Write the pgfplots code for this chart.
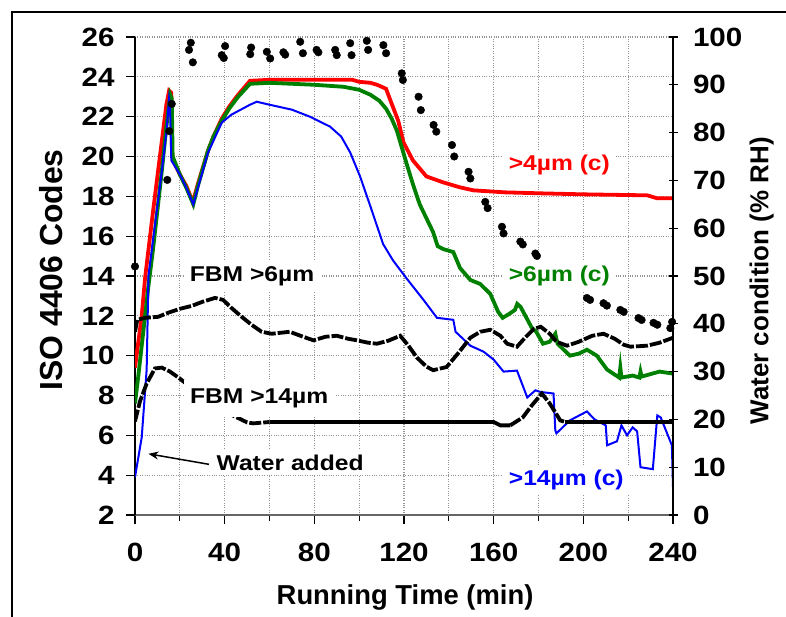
\documentclass[border=0pt]{standalone}
\usepackage{fontspec}
\setmainfont{Liberation Sans}[FakeStretch=1.15]
\newfontfamily\tkfamily{Liberation Sans}[FakeStretch=1.12]
\newfontfamily\axfamily{Liberation Sans}
\usepackage{pgfplots}
\pgfplotsset{compat=1.18}
\usetikzlibrary{arrows.meta}
\definecolor{exred}{HTML}{FF0000}
\definecolor{exgreen}{HTML}{008000}
\definecolor{exblue}{HTML}{0000FF}
\newcommand\axfont{\axfamily\fontsize{27.5}{29}\selectfont\bfseries}
\newcommand\isofont{\axfamily\fontsize{32}{34}\selectfont\bfseries}
\newcommand\rhfont{\axfamily\fontsize{26}{28}\selectfont\bfseries}
\newcommand\tkfont{\tkfamily\fontsize{26.5}{28}\selectfont\bfseries}
\newcommand\lbfont{\fontsize{21.5}{23}\selectfont\bfseries}

\begin{document}
\begin{tikzpicture}
\useasboundingbox (0,0) rectangle (786bp,617bp);
\draw[line width=1.5bp] (12bp,0) -- (12bp,605bp) -- (786bp,605bp);

\begin{axis}[
  scale only axis, width=538bp, height=478bp,
  at={(135bp,102bp)}, anchor=south west,
  xmin=0, xmax=240, ymin=2, ymax=26,
  xtick={0,40,...,240}, minor xtick={20,60,...,220},
  ytick={2,4,...,26},
  axis x line*=bottom, axis y line*=left,
  x axis line style={-, draw=gray!80!black, line width=1.2bp},
  y axis line style={-, line width=1.5bp},
  tick align=outside, major tick length=9bp, minor tick length=6bp,
  tick style={black, line width=1.2bp},
  xmajorgrids, xminorgrids, ymajorgrids,
  major grid style={gray!85, dotted, line width=1.2bp},
  minor grid style={gray!85, dotted, line width=1.2bp},
  /pgf/number format/assume math mode=true,
  ticklabel style={font=\tkfont},
  yticklabel style={xshift=-8bp},
  xticklabel style={yshift=-16bp},
  xlabel={Running Time (min)},
  ylabel={ISO 4406 Codes},
  xlabel style={font=\axfont, at={(axis description cs:0.502,-0.172)}, anchor=center},
  ylabel style={font=\isofont, at={(axis description cs:-0.156,0.513)}, anchor=center, rotate=0},
]
% >4um (c)
\addplot[exred, line width=3.8bp] coordinates {
(0,9.4)(3,12)(4.5,13.9)(8,17.2)(11,19.9)(14,22.6)(15.2,23.3)(16.2,23.2)(16.5,20.2)
(17,19.8)(20,19.1)(23,18.5)(25.8,17.7)(28,18.6)(32.6,20.3)(35,21.0)(38.7,21.9)
(42,22.5)(46,23.1)(51.3,23.8)(60,23.85)(80,23.85)(97,23.85)(100,23.75)(105,23.7)
(108,23.6)(112,23.4)(114,22.8)(117.4,21.8)(119.8,20.7)(124,19.8)(130,19.0)
(137.5,18.7)(145,18.45)(151,18.3)(165,18.2)(181,18.15)(200,18.1)(228.5,18.05)
(233,17.9)(240,17.9)
};
% >6um (c)
\addplot[exgreen, line width=3.8bp] coordinates {
(0,7.6)(1.5,9.0)(3.5,11.0)(6,13.5)(8,15.3)(10,17.3)(12,19.3)(14,21.5)(15.7,23.1)
(16.4,22.9)(16.8,20.0)(20,19.1)(23,18.4)(26,17.6)(28,18.5)(32.6,20.3)(35,21.0)
(38.7,21.8)(42,22.4)(46,23.0)(51.3,23.65)(60,23.7)(80,23.6)(93,23.5)(100,23.35)
(105,23.1)(109,22.8)(112,22.4)(114.5,21.9)(116.8,21.3)(121,19.7)(124,18.6)
(127,17.6)(130,16.9)(133,16.2)(135,15.5)(137.5,15.35)(140.6,15.25)(142,15.2)
(145,14.4)(149.6,13.8)(154,13.6)(158.5,13.1)(162,12.2)(164,11.9)(167,12.1)
(169.5,12.3)(170.5,12.6)(172,12.45)(177,11.4)(179,11.2)(182,10.6)
(185,10.7)(187.5,11.1)(188.5,10.6)(194,10.0)(198,10.1)(201.6,10.3)(206,10.0)
(210.6,9.3)(216,8.9)(216.5,9.4)(217,8.9)(222,9.0)(225,8.9)(225.5,9.2)(226,8.95)
(234,9.2)(240,9.1)
};
% >14um (c)
\addplot[exblue, line width=2bp] coordinates {
(0,3.9)(3,5.9)(5.2,9.3)(6,14)(11.9,19.2)(14.1,21.3)(15.2,22.9)(15.6,22.6)(16.2,19.8)
(20,19.1)(23,18.4)(26,17.6)(28,18.4)(32.6,20.2)(38.7,21.7)(43,22.1)(51.3,22.6)
(54.3,22.75)(60,22.6)(70,22.35)(78,22.0)(87,21.5)(92,21.0)(96,20.2)(100.4,19.0)
(105,17.5)(110.7,15.6)(115,14.8)(121,13.9)(128.7,12.8)(134.7,11.9)(142,11.8)
(143,11.2)(149.6,10.5)(155.5,10.2)(160,9.8)(164.4,9.2)(170.4,9.25)(175,7.9)
(178.6,8.26)(180.8,8.18)(186.7,8.1)(187.5,6.25)(188,6.1)(194,6.75)(201.6,7.2)
(205,6.8)(210,6.5)(210.6,5.5)(215,5.7)(217,6.5)(219.5,6.0)(222,6.4)(224,6.2)
(225.5,4.4)(231,4.3)(233,7.0)(234.5,6.9)(239.5,5.5)(240,3.4)
};
% FBM >6um
\addplot[black, line width=3.8bp, dash pattern=on 12bp off 2bp] coordinates {
(0,11.2)(1,11.8)(4.5,11.9)(10.3,11.95)(14.7,12.15)(20,12.35)(25.3,12.5)(30,12.7)
(35.7,12.9)(39.3,12.8)(43,12.4)(47.6,11.95)(52,11.55)(56.5,11.2)(61,11.1)(69,11.2)
(75,10.95)(79.6,10.77)(85,10.95)(90,11.0)(95,10.85)(99,10.77)(104,10.65)
(107.9,10.6)(113,10.75)(118.3,11.0)(122,10.5)(125.8,9.9)(130,9.45)(133,9.27)
(139,9.43)(144,10.1)(149.6,10.9)(154,11.2)(158.5,11.3)(163,11.0)(166,10.6)
(170.4,10.45)(174,10.9)(178,11.35)(181,11.45)(185,11.1)(188,10.7)(192.7,10.5)
(198,10.7)(204,11.0)(209,11.1)(214,10.85)(218,10.55)(221,10.45)(228.4,10.5)
(234,10.65)(240,10.9)
};
% FBM >14um
\addplot[black, line width=3.8bp, dash pattern=on 12bp off 2bp] coordinates {
(0,6.7)(2.2,7.7)(5.2,8.6)(8.9,9.36)(12,9.4)(15.6,9.2)(20,8.85)(24.6,8.43)(30,7.9)
(35,7.5)(40,7.2)(45.4,6.9)(50,6.65)(52.7,6.6)(60,6.67)
};
\addplot[black, line width=3.8bp] coordinates {
(60,6.67)(120,6.67)(160,6.67)(163,6.5)(167.4,6.5)
};
\addplot[black, line width=3.8bp, dash pattern=on 12bp off 2bp] coordinates {
(167.4,6.5)(173,6.9)(177,7.5)(181.5,8.1)(185,7.6)(189.7,6.75)(192,6.67)
};
\addplot[black, line width=3.8bp] coordinates {
(192,6.67)(240,6.67)
};
\end{axis}

\begin{axis}[
  scale only axis, width=538bp, height=478bp,
  at={(135bp,102bp)}, anchor=south west,
  xmin=0, xmax=240, ymin=0, ymax=100,
  ytick={0,10,...,100},
  axis x line=none, axis y line*=right,
  y axis line style={-, line width=1.5bp},
  tick align=center, major tick length=9bp,
  tick style={black, line width=1.2bp},
  /pgf/number format/assume math mode=true,
  ticklabel style={font=\tkfont},
  yticklabel style={xshift=12bp},
  ylabel={Water condition (\% RH)},
  ylabel style={font=\rhfont, at={(axis description cs:1.165,0.49)}, anchor=center},
]
\addplot[only marks, mark=*, mark size=3.8bp, black] coordinates {
(0,52)(14.4,70.1)(15.3,80.3)(16.4,86)(24.1,97.3)(24.9,98.8)(25.8,94.7)(38.7,96.2)
(39.6,95.6)(40.2,98.1)(51.4,96.4)(51.8,97.8)(58.8,96.9)(60.3,95.5)(66.2,96.8)
(67.0,96.3)(73.7,99)(74.9,96.6)(81,97.3)(81.8,96.8)(89.3,97.3)(90,96.2)(96,98.7)
(96.6,96.2)(103.4,99.2)(104,97.3)(110.8,98.3)(112,96.6)(119,92.4)(119.5,91)
(126.5,87.5)(127.5,84.7)(133.2,81.6)(134.4,80.2)(141.4,77.4)(142.4,75)
(148.8,71.8)(149.6,70.4)(156.25,65.5)(157.3,64.2)(163.7,60.3)(164.4,58.9)
(171.9,57.2)(173,56.6)(178.6,54.7)(179.3,54.2)(201.6,45.4)(203,45)(209,44.3)
(210.5,43.8)(216.5,42.9)(218,42.5)(224.6,41.2)(226,40.8)(231.3,40.2)(233,39.8)
(238.8,39.1)(239.6,40.4)
};
\node[fill=white, inner xsep=6bp, inner ysep=5bp, text=exred, font=\lbfont] at (axis cs:189.3,73.3) {>4µm (c)};
\node[fill=white, inner xsep=6bp, inner ysep=5bp, text=exgreen, font=\lbfont] at (axis cs:189.3,50) {>6µm (c)};
\node[fill=white, inner xsep=6bp, inner ysep=5bp, text=exblue, font=\lbfont] at (axis cs:192.4,7.25) {>14µm (c)};
\node[fill=white, inner xsep=6bp, inner ysep=5bp, font=\lbfont] at (axis cs:52.2,50) {FBM >6µm};
\node[fill=white, inner xsep=6bp, inner ysep=9bp, font=\lbfont] at (axis cs:55.4,24.4) {FBM >14µm};
\node[fill=white, inner xsep=6bp, inner ysep=5bp, font=\lbfont] at (axis cs:69.2,11.0) {Water added};
\draw[-{Stealth[length=10bp,width=8bp]}, line width=1.5bp] (axis cs:33,10.6) -- (axis cs:6,12.8);
\end{axis}
\end{tikzpicture}
\end{document}
